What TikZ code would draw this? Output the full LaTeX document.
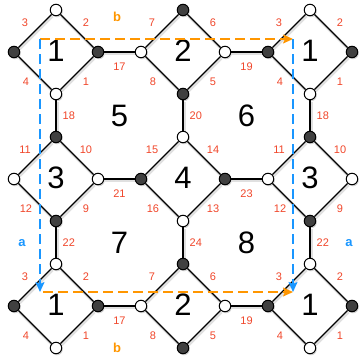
\documentclass[tikz,border=0pt]{standalone}
\usepackage{fontspec}
\setmainfont{Liberation Sans}
\usetikzlibrary{calc,arrows.meta,shadows}

\definecolor{numred}{RGB}{240,70,42}
\definecolor{cutorange}{RGB}{255,150,0}
\definecolor{cutblue}{RGB}{25,150,255}

\begin{document}
\begin{tikzpicture}[
  x=1pt, y=-1pt,
  vtx/.style={circle, draw, line width=1pt, inner sep=0pt, minimum size=11.5pt,
    drop shadow={shadow xshift=1pt, shadow yshift=-1.5pt, opacity=0.35}},
  wvtx/.style={vtx, fill=white},
  bvtx/.style={vtx, fill=black!75},
  edge/.style={draw, line width=1.4pt,
    preaction={draw, line width=3pt, black, opacity=0.12,
      transform canvas={xshift=1pt, yshift=-1.5pt}}},
  lab/.style={text=numred, inner sep=1pt, font=\fontsize{11}{11}\selectfont},
  face/.style={font=\fontsize{31}{31}\selectfont},
  cut/.style={line width=1.7pt, dash pattern=on 10pt off 5pt,
    -{Stealth[length=10pt, width=9pt, inset=2pt]}},
  side/.style={font=\bfseries\fontsize{13}{13}\selectfont}
]
\useasboundingbox (0,0) rectangle (359,364);

% diamonds: column/row/labels br,tr,tl,bl/face
\foreach \i/\j/\nbr/\ntr/\ntl/\nbl/\nface in {
    0/0/1/2/3/4/1, 1/0/5/6/7/8/2, 2/0/1/2/3/4/1,
    0/1/9/10/11/12/3, 1/1/13/14/15/16/4, 2/1/9/10/11/12/3,
    0/2/1/2/3/4/1, 1/2/5/6/7/8/2, 2/2/1/2/3/4/1} {
  \coordinate (c-\i-\j) at ({56+127*\i},{52+127*\j});
  \pgfmathtruncatemacro\pty{mod(\i+\j,2)}
  \ifnum\pty=0
    \node[wvtx] (t-\i-\j) at ($(c-\i-\j)+(0,-42)$) {};
    \node[wvtx] (b-\i-\j) at ($(c-\i-\j)+(0,42)$) {};
    \node[bvtx] (l-\i-\j) at ($(c-\i-\j)+(-42,0)$) {};
    \node[bvtx] (r-\i-\j) at ($(c-\i-\j)+(42,0)$) {};
  \else
    \node[bvtx] (t-\i-\j) at ($(c-\i-\j)+(0,-42)$) {};
    \node[bvtx] (b-\i-\j) at ($(c-\i-\j)+(0,42)$) {};
    \node[wvtx] (l-\i-\j) at ($(c-\i-\j)+(-42,0)$) {};
    \node[wvtx] (r-\i-\j) at ($(c-\i-\j)+(42,0)$) {};
  \fi
  \draw[edge] (t-\i-\j) -- (r-\i-\j) -- (b-\i-\j) -- (l-\i-\j) -- (t-\i-\j);
  \node[face] (f-\i-\j) at ($(c-\i-\j)+(0,-1)$) {\nface};
  \node[lab] at ($(c-\i-\j)+(30,30)$) {\nbr};
  \node[lab] at ($(c-\i-\j)+(30,-29)$) {\ntr};
  \node[lab] at ($(c-\i-\j)+(-31,-29)$) {\ntl};
  \node[lab] at ($(c-\i-\j)+(-30,30)$) {\nbl};
}

% links between diamonds
\foreach \i/\j/\n in {0/0/17, 1/0/19, 0/1/21, 1/1/23, 0/2/17, 1/2/19} {
  \pgfmathtruncatemacro\k{\i+1}
  \draw[edge] (r-\i-\j) -- node[lab, below=9pt] {\n} (l-\k-\j);
}
\foreach \i/\j/\n in {0/0/18, 0/1/22, 1/0/20, 1/1/24, 2/0/18, 2/1/22} {
  \pgfmathtruncatemacro\k{\j+1}
  \draw[edge] (b-\i-\j) -- node[lab, right=5pt] {\n} (t-\i-\k);
}

% inner faces
\node[face] (f5) at ($(c-0-0)!0.5!(c-1-1)$) {5};
\node[face] (f6) at ($(c-1-0)!0.5!(c-2-1)$) {6};
\node[face] (f7) at ($(c-0-1)!0.5!(c-1-2)$) {7};
\node[face] (f8) at ($(c-1-1)!0.5!(c-2-2)$) {8};

% cut lines
\coordinate (cut-nw) at (40,39);
\coordinate (cut-ne) at (293,39);
\coordinate (cut-sw) at (40,292);
\coordinate (cut-s) at (43,292);
\coordinate (cut-se) at (293,292);
\draw[cut, cutorange] (cut-nw) -- (cut-ne);
\draw[cut, cutorange] (cut-s) -- (cut-se);
\draw[cut, cutblue] (cut-nw) -- (cut-sw);
\draw[cut, cutblue] (cut-ne) -- (cut-se);

\node[side, text=cutorange] (b-top) at (117,17) {b};
\node[side, text=cutorange] (b-bot) at (117,348) {b};
\node[side, text=cutblue] (a-left) at (22,243) {a};
\node[side, text=cutblue] (a-right) at (349,243) {a};
\end{tikzpicture}
\end{document}
